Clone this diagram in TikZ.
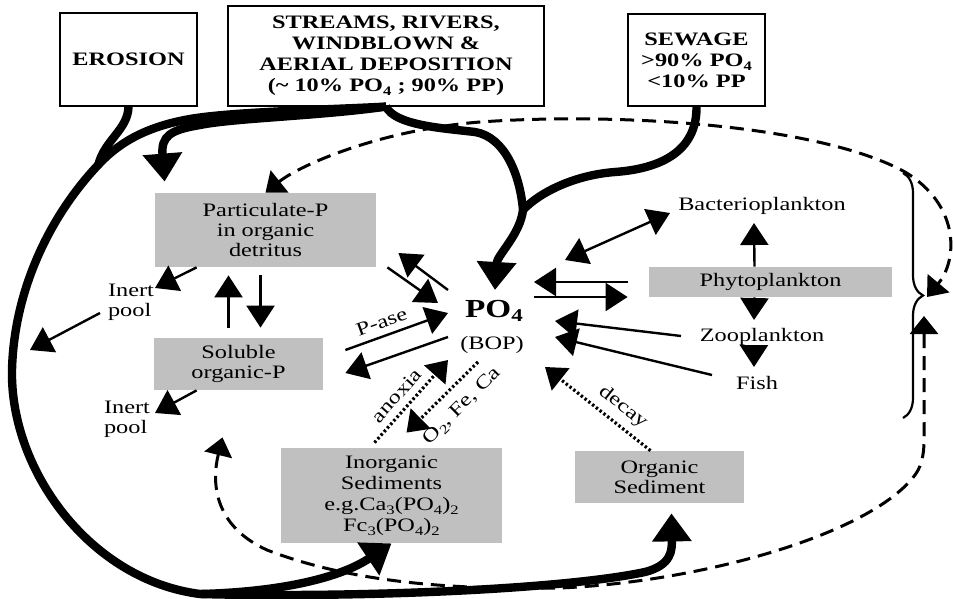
\documentclass[tikz,border=0pt]{standalone}
\usepackage{fontspec}
\setmainfont[FakeStretch=1.28]{Liberation Serif}
\usetikzlibrary{arrows.meta,calc,decorations.pathreplacing}
\definecolor{sedgray}{RGB}{192,192,192}
\newcommand{\lowsub}[1]{\raisebox{-0.45ex}{\fontsize{6.5}{7}\selectfont #1}}

\begin{document}
\begin{tikzpicture}[
  x=0.5pt, y=-0.5pt,
  font=\fontsize{9.5}{10}\selectfont,
  src/.style={draw, line width=0.6pt, align=center, inner sep=0pt, font=\fontsize{9.5}{10.5}\selectfont\bfseries},
  pool/.style={fill=sedgray, align=center, inner sep=0pt},
  arrow/.style={-{Triangle[length=11pt,width=14pt]}, line width=1.2pt},
  twoway/.style={{Triangle[length=11pt,width=14pt]}-{Triangle[length=11pt,width=14pt]}, line width=1.2pt},
  bigarrow/.style={-{Triangle[length=14pt,width=19pt]}, line width=4.2pt},
  dasharrow/.style={{Triangle[length=9pt,width=14pt]}-{Triangle[length=9pt,width=14pt]}, line width=1.5pt, dash pattern=on 7pt off 4pt},
  dotarrow/.style={-{Triangle[length=10pt,width=14pt]}, line width=1.6pt, dash pattern=on 1.2pt off 1.2pt}
]
\useasboundingbox (0,0) rectangle (953,599);

% sources
\node[src, minimum width=68.5pt, minimum height=46.5pt] (erosion) at (128.5,59.5) {EROSION};
\node[src, minimum width=158pt, minimum height=50pt] (streams) at (386,56) {STREAMS, RIVERS,\\WINDBLOWN \&\\AERIAL DEPOSITION\\(\textasciitilde{} 10\% PO\lowsub{4} ; 90\% PP)};
\node[src, minimum width=68.5pt, minimum height=46pt] (sewage) at (696.5,60) {SEWAGE\\>90\% PO\lowsub{4}\\<10\% PP};

% pools
\node[pool, minimum width=110.5pt, minimum height=37pt] (part) at (265.5,230) {Particulate-P\\in organic\\detritus};
\node[pool, minimum width=84.5pt, minimum height=26pt] (sol) at (238.5,364) {Soluble\\organic-P};
\node[pool, minimum width=110.5pt, minimum height=47.5pt, font=\fontsize{9.5}{10.5}\selectfont] (inorg) at (391.5,495.5) {Inorganic\\Sediments\\e.g.Ca\lowsub{3}(PO\lowsub{4})\lowsub{2}\\Fc\lowsub{3}(PO\lowsub{4})\lowsub{2}};
\node[pool, minimum width=84.5pt, minimum height=26pt] (orgsed) at (659.5,477) {Organic\\Sediment};
\node[pool, minimum width=121.5pt, minimum height=15pt] (phyto) at (770.5,282) {Phytoplankton};

\node[inner sep=0pt, font=\fontsize{13}{15}\selectfont\bfseries] (po) at (494,311) {PO\raisebox{-0.4ex}{\fontsize{9}{9}\selectfont 4}};
\node (bop) at (492,345) {(BOP)};
\node (bact) at (762,206) {Bacterioplankton};
\node (zoo) at (762,337) {Zooplankton};
\node (fish) at (757,383) {Fish};
\node[align=left] (inert1) at (131,302) {Inert\\pool};
\node[align=left] (inert2) at (127,419) {Inert\\pool};

\coordinate (join) at (523,210);
\coordinate (bottom) at (200,594);
\coordinate (wall) at (30,350);
\coordinate (intop) at (927,297);
\coordinate (inbot) at (924,316);

% inputs and the big loop
\draw[line width=4.2pt] (erosion.south) .. controls (128,130) and (104,140) .. (98,166);
\draw[bigarrow] (streams.south)
  .. controls (320,110) and (230,112) .. (190,119)
  .. controls (150,126) and (122,140) .. (100,163)
  .. controls (50,215) and (14,290) .. (12,370)
  .. controls (10,470) and (90,580) .. (bottom)
  .. controls (350,598) and (560,590) .. (645,572)
  .. controls (672,565) and (672,550) .. ($(orgsed.south)+(12,10)$);
\draw[bigarrow] (bottom) .. controls (280,592) and (340,578) .. (inorg.south);
\draw[bigarrow] (streams.south) .. controls (320,116) and (235,118) .. (200,125)
  .. controls (170,130) and (161,136) .. ($(part.north west)+(10,-11)$);
\draw[line width=4.2pt] (sewage.south) .. controls (697,145) and (670,168) .. (615,172)
  .. controls (575,175) and (540,192) .. (join);
\draw[bigarrow] (streams.south) .. controls (395,125) and (440,128) .. (475,132)
  .. controls (505,137) and (520,175) .. (join)
  .. controls (520,235) and (497,255) .. ($(po)+(1,-21)$);

% plankton
\draw[decorate, decoration={brace, amplitude=10pt}, line width=1.1pt] (903,173) -- (903,418);
\draw[dasharrow] (part.north) .. controls (300,165) and (380,130) .. (480,122)
  .. controls (620,112) and (820,125) .. (905,172)
  .. controls (960,205) and (958,260) .. (intop);
\draw[dasharrow] ($(sol.south)+(-16,47)$) .. controls (212,480) and (212,525) .. (267,550)
  .. controls (350,582) and (450,590) .. (560,588)
  .. controls (700,582) and (870,535) .. (915,475)
  .. controls (926,460) and (924,440) .. (924,420) -- (inbot);

% thin arrows
\draw[arrow] ($(part.south west)+(42,0)$) -- ($(inert1)+(24,-14)$);
\draw[arrow] ($(inert1)+(-31,11)$) -- (wall);
\draw[arrow] ($(sol.north)+(-10,-10)$) -- ($(part.south)+(-37,8)$);
\draw[arrow] ($(part.south)+(-5,8)$) -- ($(sol.north)+(22,-10)$);
\draw[arrow] ($(sol.south west)+(43,0)$) -- ($(inert2)+(28,-6)$);
\draw[arrow] ($(po)+(-46,-21)$) -- ($(part.east)+(22,23)$);
\draw[arrow] ($(part.south east)+(11,0)$) -- ($(po)+(-56,-8)$);
\draw[arrow] ($(sol.east)+(22,-14)$) -- node[above, sloped, pos=0.4] {P-ase} ($(po)+(-46,2)$);
\draw[arrow] ($(po)+(-46,26)$) -- ($(sol.east)+(22,9)$);
\draw[arrow] ($(phyto.west)+(-21,0)$) -- ($(po)+(40,-29)$);
\draw[arrow] ($(po)+(40,-14)$) -- ($(phyto.west)+(-21,15)$);
\draw[twoway] ($(po)+(71,-51)$) -- ($(bact)+(-92,7)$);
\draw[arrow] ($(phyto.north)+(-16,0)$) -- ($(bact)+(-8,17)$);
\draw[arrow] ($(phyto.south)+(-16,0)$) -- ($(zoo)+(-8,-17)$);
\draw[arrow] ($(zoo)+(-8,8)$) -- ($(fish)+(-3,-16)$);
\draw[arrow] ($(zoo)+(-81,-1)$) -- ($(po)+(61,10)$);
\draw[arrow] ($(fish)+(-45,-8)$) -- ($(po)+(61,26)$);

% sediments
\draw[dotarrow] ($(orgsed.north)+(-9,0)$) -- node[above, sloped, pos=0.36] {decay} ($(po)+(51,56)$);
\draw[dotarrow] ($(inorg.north)+(-17,-5)$) -- node[above, sloped, pos=0.45] {anoxia} ($(po)+(-46,49)$);
\draw[dotarrow] ($(po)+(-16,51)$) -- node[below=2pt, sloped, pos=0.42] {O\lowsub{2}, Fe, Ca} ($(inorg.north)+(15,-15)$);
\end{tikzpicture}
\end{document}
